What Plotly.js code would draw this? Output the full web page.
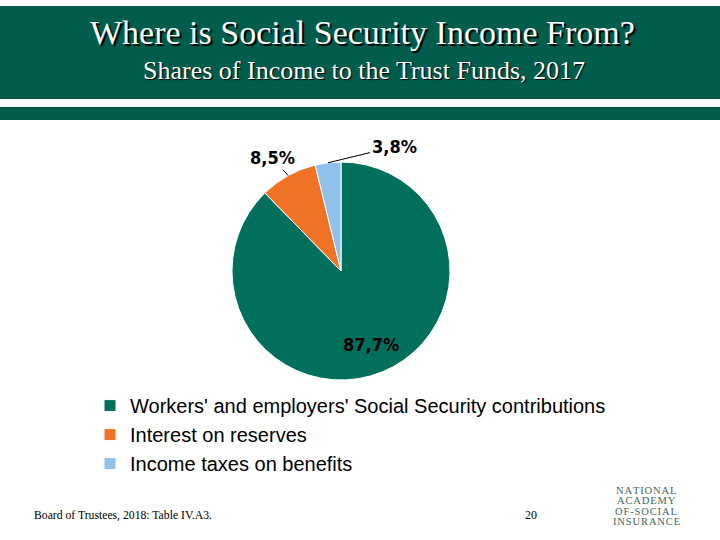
<!DOCTYPE html>
<html>
<head>
<meta charset="utf-8">
<script src="https://cdn.plot.ly/plotly-3.0.1.min.js"></script>
<style>html,body{margin:0;padding:0;background:#fff;}#chart{width:720px;height:540px;}</style>
</head>
<body>
<div id="chart"></div>
<script>
const categories = ["Workers' and employers' Social Security contributions", "Interest on reserves", "Income taxes on benefits"];
const shares = [87.7, 8.5, 3.8];
const sliceColors = ["#00705c", "#f07224", "#8fc1ea"];
const titleText = "Where is Social Security Income From?";
const subtitleText = "Shares of Income to the Trust Funds, 2017";
const sourceText = "Board of Trustees, 2018: Table IV.A3.";
const pageNumber = "20";
const logoLines = ["NATIONAL", "ACADEMY", "OF-SOCIAL", "INSURANCE"];

const green = "#005c4b";

// pie geometry (pixels, page 720x540)
const pieCx = 341, pieCy = 271, pieR = 109;
const W = 720, H = 540;

const data = [{
  type: "pie",
  labels: categories,
  values: shares,
  sort: false,
  direction: "clockwise",
  rotation: 0,
  marker: {colors: sliceColors, line: {color: "#ffffff", width: 1}},
  textinfo: "none",
  domain: {x: [(pieCx - pieR) / W, (pieCx + pieR) / W], y: [(H - pieCy - pieR) / H, (H - pieCy + pieR) / H]},
  automargin: false,
  hoverinfo: "none"
}];

function fmt(v) { return v.toFixed(1).replace(".", ",") + "%"; }
const total = shares.reduce(function(a, b){ return a + b; }, 0);
// mid angles (clockwise from 12 o'clock)
const midAngles = [];
let acc = 0;
shares.forEach(function(v){ midAngles.push((acc + v / 2) / total * 2 * Math.PI); acc += v; });
function piePoint(ang, f) {
  return {x: pieCx + pieR * f * Math.sin(ang), y: H - (pieCy - pieR * f * Math.cos(ang))};
}
const labelFont = {family: "DejaVu Sans Condensed, DejaVu Sans", size: 18, color: "#000000", weight: "bold"};
// label offsets (pixels) for outside labels
const labelOffsets = [null, {ax: -16, ay: -18}, {ax: 66, ay: -16}];

const annotations = [
  {text: titleText, x: 0.504, y: 508, xref: "paper", yref: "y", showarrow: false,
   font: {family: "Liberation Serif", size: 34, color: "#ffffff", shadow: "2px 2px 1px #000000"}, xanchor: "center", yanchor: "middle"},
  {text: subtitleText, x: 0.506, y: 470, xref: "paper", yref: "y", showarrow: false,
   font: {family: "Liberation Serif", size: 26, color: "#ffffff", shadow: "1px 1px 1px #000000"}, xanchor: "center", yanchor: "middle"},
  {text: sourceText, x: 32, y: 25, xref: "x", yref: "y", showarrow: false,
   font: {family: "Liberation Serif", size: 11.7, color: "#000000"}, xanchor: "left", yanchor: "middle"},
  {text: pageNumber, x: 531, y: 25, xref: "x", yref: "y", showarrow: false,
   font: {family: "Liberation Serif", size: 12, color: "#000000"}, xanchor: "center", yanchor: "middle"}
];

shares.forEach(function(v, i){
  if (i === 0) {
    const p = piePoint(midAngles[i], 0.73);
    annotations.push({text: fmt(v), x: p.x, y: p.y, xref: "x", yref: "y", showarrow: false,
      font: labelFont, xanchor: "center", yanchor: "middle"});
  } else {
    const p = piePoint(midAngles[i], 1.0);
    annotations.push({text: fmt(v), x: p.x, y: p.y, xref: "x", yref: "y", showarrow: true,
      ax: labelOffsets[i].ax, ay: labelOffsets[i].ay, arrowhead: 0, arrowwidth: 1, arrowcolor: "#000000",
      standoff: 0, startstandoff: 0, font: labelFont, xanchor: "center", yanchor: "middle"});
  }
});

logoLines.forEach(function(t, i){
  annotations.push({text: t.split("").join("\u200A"), x: 646, y: 50 - i*10.5, xref: "x", yref: "y", showarrow: false,
    font: {family: "Liberation Serif", size: 10.5, color: "#46655d"}, xanchor: "center", yanchor: "middle"});
});

const layout = {
  width: 720, height: 540,
  margin: {l: 0, r: 0, t: 0, b: 0},
  paper_bgcolor: "#ffffff",
  plot_bgcolor: "rgba(0,0,0,0)",
  xaxis: {range: [0, 720], visible: false, fixedrange: true},
  yaxis: {range: [0, 540], visible: false, fixedrange: true},
  showlegend: true,
  legend: {x: 0.125, y: 0.285, xanchor: "left", yanchor: "top",
    font: {family: "Liberation Sans", size: 20, color: "#000000"}, bgcolor: "rgba(0,0,0,0)", itemwidth: 30},
  shapes: [
    {type: "rect", xref: "paper", yref: "y", x0: 0, x1: 1, y0: 441, y1: 534, fillcolor: green, line: {width: 0}, layer: "below"},
    {type: "rect", xref: "paper", yref: "y", x0: 0, x1: 1, y0: 420, y1: 433, fillcolor: green, line: {width: 0}, layer: "below"}
  ],
  annotations: annotations
};

Plotly.newPlot("chart", data, layout, {displayModeBar: false, staticPlot: true});
</script>
</body>
</html>
